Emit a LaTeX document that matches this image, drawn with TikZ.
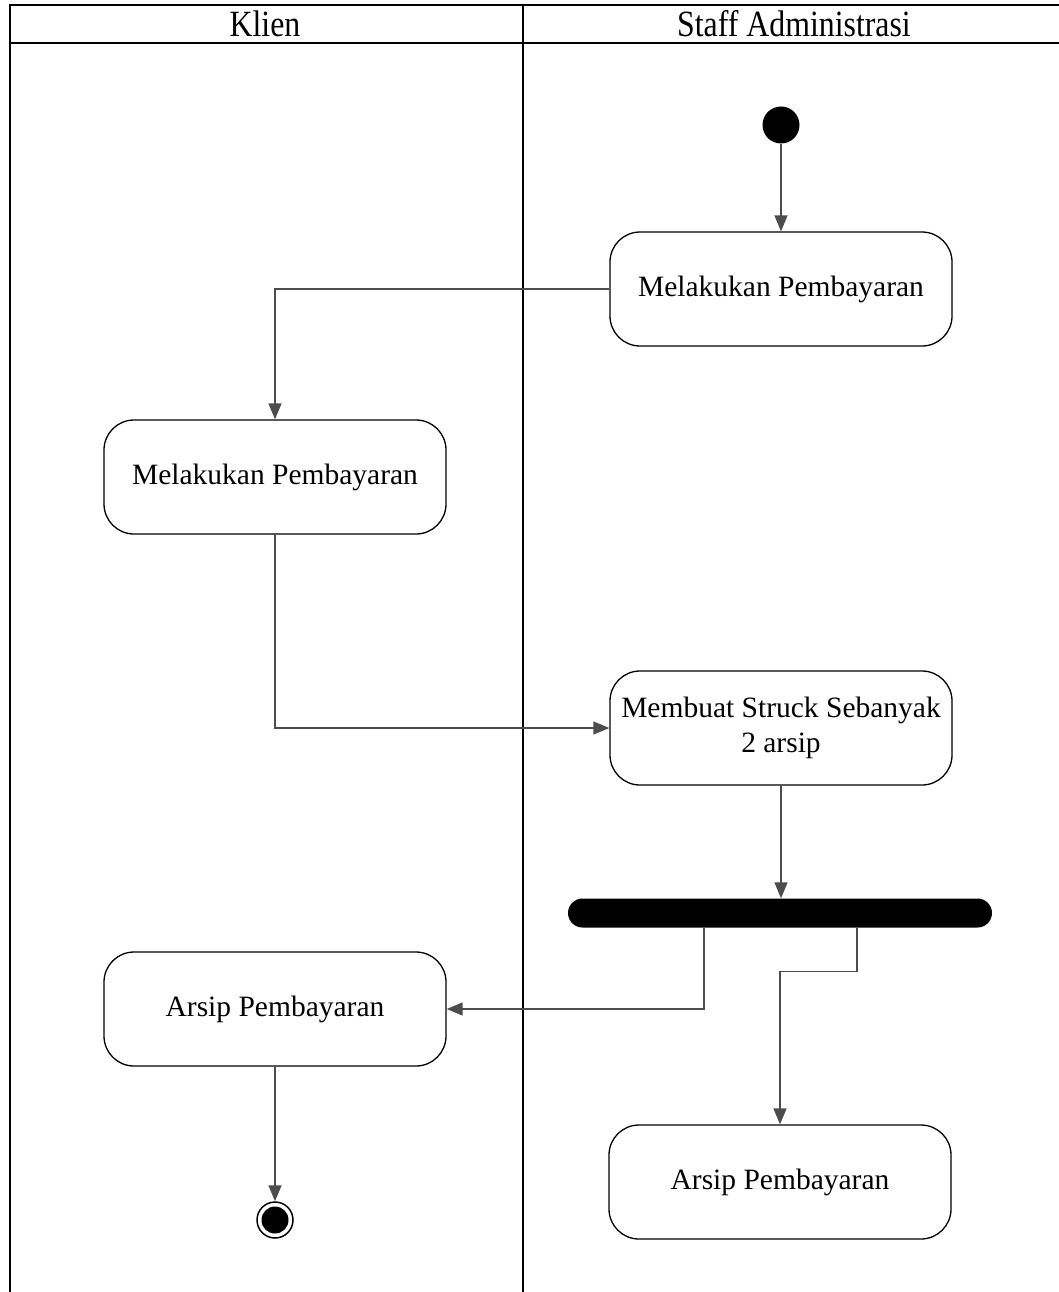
\documentclass[tikz,border=0pt]{standalone}
\usepackage{fontspec}
\setmainfont{Liberation Serif}
\usetikzlibrary{arrows.meta,positioning}
\begin{document}
\begin{tikzpicture}[x=1pt,y=-1pt,
  act/.style={draw=black, line width=1.3pt, rounded corners=30pt,
    minimum width=342pt, minimum height=114pt, align=center, inner sep=0pt,
    font=\fontsize{29.5}{35}\selectfont, fill=white},
  flow/.style={draw=black!70, line width=1.5pt,
    -{Triangle[length=16pt,width=13pt]}},
  lane/.style={draw=black, line width=1.3pt},
  head/.style={font=\fontsize{37}{40}\selectfont, inner sep=0pt}
]
\useasboundingbox (0,0) rectangle (1059,1292);

% swimlane frame
\draw[lane] (10,1292) -- (10,5) -- (1059,5);
\draw[lane] (10,43) -- (1059,43);
\draw[lane] (523,5) -- (523,1292);
\node[head] (hk) at (265,24) {\scalebox{0.86}[1]{Klien}};
\node[head] (hs) at (794,24) {\scalebox{0.86}[1]{Staff Administrasi}};

% activities
\node[circle, fill=black, minimum size=37pt, inner sep=0pt] (start) at (781,125) {};
\node[act] (m1) at (781,289) {Melakukan Pembayaran};
\node[act] (k1) at (275,477) {Melakukan Pembayaran};
\node[act] (s2) at (781,728) {Membuat Struck Sebanyak\\2 arsip};
\node[fill=black, rounded corners=14.5pt, minimum width=424pt, minimum height=29pt, inner sep=0pt] (bar) at (780,913) {};
\node[act] (a1) at (275,1009) {Arsip Pembayaran};
\node[act] (a2) at (780,1182) {Arsip Pembayaran};
\node[circle, draw=black, line width=1.5pt, minimum size=36pt, inner sep=0pt] (end) at (275,1220) {};
\fill[black] (end.center) circle (13.5pt);

\coordinate (f1) at ([xshift=-76pt]bar.south);
\coordinate (f2) at ([xshift=77pt]bar.south);

% flows
\draw[flow] (start) -- (m1);
\draw[flow] (m1.west) -| (k1.north);
\draw[flow] (k1.south) |- (s2.west);
\draw[flow] (s2.south) -- (s2.south |- bar.north);
\draw[flow] (f1) |- (a1.east);
\draw[flow] (f2) -- ++(0,44) -| (a2.north);
\draw[flow] (a1.south) -- (end);
\end{tikzpicture}
\end{document}
